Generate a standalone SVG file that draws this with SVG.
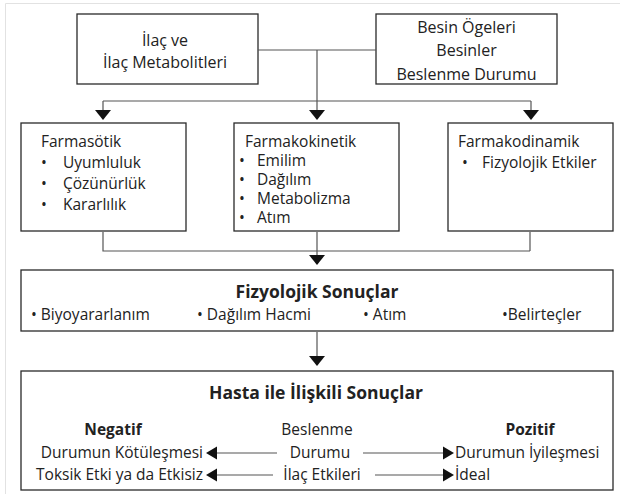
<svg xmlns="http://www.w3.org/2000/svg" width="620" height="494" viewBox="0 0 620 494">
<defs>
<style>
.box{fill:#fff;stroke:#2a2a2a;stroke-width:1.3}
.con{fill:none;stroke:#555;stroke-width:1.2}
.ah{fill:#111}
text{font-family:"Open Sans","Noto Sans",sans-serif;font-size:15.5px;fill:#222}
.c{text-anchor:middle}
.r{text-anchor:end}
.b{font-weight:bold;font-size:17.5px}
.bs{font-weight:bold;font-size:15.5px}
.t{font-size:16px}
</style>
</defs>
<rect width="620" height="494" fill="#fff"/>
<path d="M5.5,494 V3.5 H620" fill="none" stroke="#e2e2e2" stroke-width="1"/>

<g id="ilac">
<rect class="box" x="77" y="14" width="181" height="70"/>
<text class="c t" x="165" y="46">İlaç ve</text>
<text class="c t" x="165" y="68">İlaç Metabolitleri</text>
</g>

<g id="besin">
<rect class="box" x="376" y="14" width="181" height="70"/>
<text class="c t" x="466.5" y="33">Besin Ögeleri</text>
<text class="c t" x="466.5" y="56">Besinler</text>
<text class="c t" x="466.5" y="80">Beslenme Durumu</text>
</g>

<g id="farmasotik">
<rect class="box" x="21" y="123" width="165" height="108"/>
<text x="41" y="147">Farmasötik</text>
<text x="41" y="168">•</text><text x="63" y="168">Uyumluluk</text>
<text x="41" y="189">•</text><text x="63" y="189">Çözünürlük</text>
<text x="41" y="210">•</text><text x="63" y="210">Kararlılık</text>
</g>

<g id="farmakokinetik">
<rect class="box" x="234" y="123" width="165" height="108"/>
<text x="245" y="147">Farmakokinetik</text>
<text x="239" y="166">•</text><text x="257" y="166">Emilim</text>
<text x="239" y="185">•</text><text x="257" y="185">Dağılım</text>
<text x="239" y="204">•</text><text x="257" y="204">Metabolizma</text>
<text x="239" y="223">•</text><text x="257" y="223">Atım</text>
</g>

<g id="farmakodinamik">
<rect class="box" x="448" y="123" width="165" height="108"/>
<text x="458" y="147">Farmakodinamik</text>
<text x="462" y="168">•</text><text x="482" y="168">Fizyolojik Etkiler</text>
</g>

<g id="fizyolojik">
<rect class="box" x="21" y="270" width="592" height="61"/>
<text class="c b" x="317" y="298">Fizyolojik Sonuçlar</text>
<text x="31" y="320">• Biyoyararlanım</text>
<text x="197" y="320">• Dağılım Hacmi</text>
<text x="363" y="320">• Atım</text>
<text x="502" y="320">•Belirteçler</text>
</g>

<g id="hasta">
<rect class="box" x="21" y="371" width="592" height="119"/>
<text class="c b" x="316" y="399">Hasta ile İlişkili Sonuçlar</text>
<text class="c bs" x="113" y="435">Negatif</text>
<text class="c" x="317" y="435">Beslenme</text>
<text class="c bs" x="530" y="435">Pozitif</text>
<text class="r" x="203" y="458">Durumun Kötüleşmesi</text>
<text class="c" x="320" y="458">Durumu</text>
<text x="455" y="458">Durumun İyileşmesi</text>
<text class="r" x="203" y="480">Toksik Etki ya da Etkisiz</text>
<text class="c" x="322" y="480">İlaç Etkileri</text>
<text x="455" y="480">İdeal</text>
</g>

<g id="connectors">
<path class="con" d="M258,50 H376 M317,50 V112 M103,101 H531 M103,101 V112 M531,101 V112"/>
<polygon class="ah" points="95,110 111,110 103,120"/>
<polygon class="ah" points="309,110 325,110 317,120"/>
<polygon class="ah" points="523,110 539,110 531,120"/>
<path class="con" d="M103,232 V251 H530 M317,232 V258 M530,232 V251"/>
<polygon class="ah" points="309,255 325,255 317,265"/>
<path class="con" d="M317,332 V358"/>
<polygon class="ah" points="309,356 325,356 317,366"/>
<path class="con" d="M216,453 H277 M363,453 H444 M216,475 H273 M375,475 H444"/>
<polygon class="ah" points="206,453 217,446.5 217,459.5"/>
<polygon class="ah" points="454,453 443,446.5 443,459.5"/>
<polygon class="ah" points="206,475 217,468.5 217,481.5"/>
<polygon class="ah" points="454,475 443,468.5 443,481.5"/>
</g>
</svg>
